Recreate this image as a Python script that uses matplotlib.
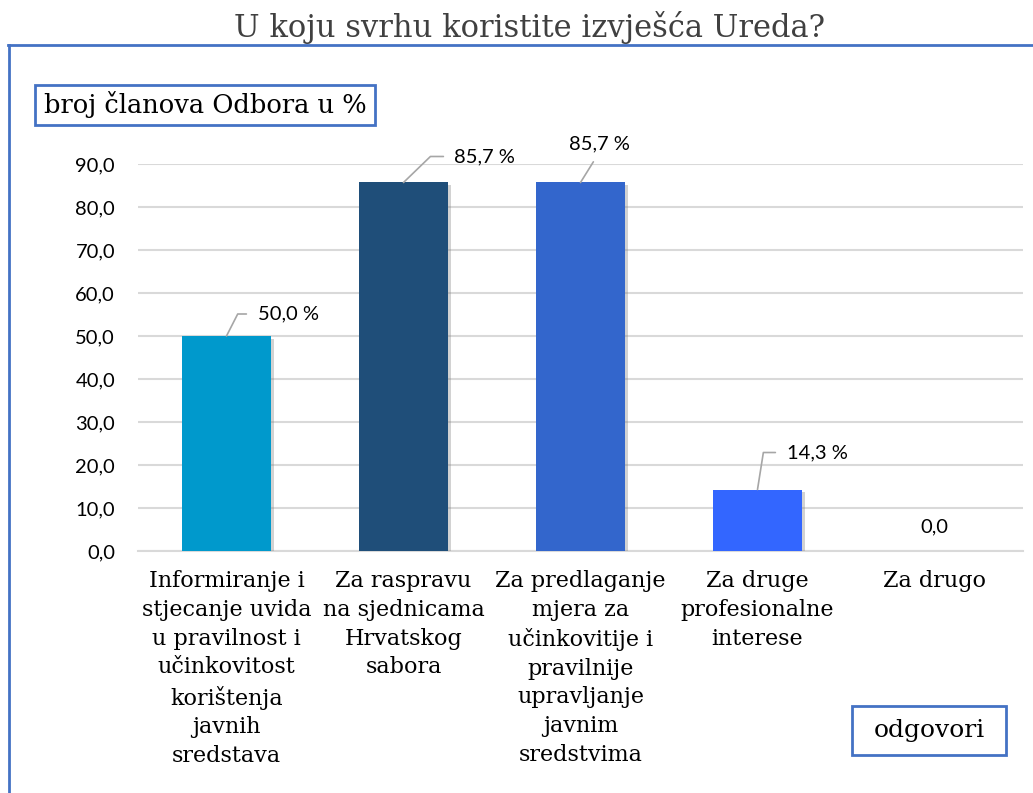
import matplotlib
matplotlib.use("Agg")
import matplotlib.pyplot as plt
from matplotlib.patches import Rectangle
from matplotlib.lines import Line2D
import matplotlib.patheffects as pe

# Survey data
categories = [
    "Informiranje i\nstjecanje uvida\nu pravilnost i\nučinkovitost\nkorištenja\njavnih\nsredstava",
    "Za raspravu\nna sjednicama\nHrvatskog\nsabora",
    "Za predlaganje\nmjera za\nučinkovitije i\npravilnije\nupravljanje\njavnim\nsredstvima",
    "Za druge\nprofesionalne\ninterese",
    "Za drugo",
]
values = [50.0, 85.7, 85.7, 14.3, 0.0]
yticks = [0, 10, 20, 30, 40, 50, 60, 70, 80, 90]
bar_colors = ["#0099CC", "#1F4E79", "#3366CC", "#3366FF", "#3366FF"]

W, H = 1033, 793
DPI = 100
fig = plt.figure(figsize=(W / DPI, H / DPI), dpi=DPI)

SERIF = ["DejaVu Serif"]
SANS = ["Lato", "DejaVu Sans"]
FRAME = "#4472C4"


def px(x, y):
    """pixel (from top-left) -> figure fraction"""
    return x / W, 1 - y / H


# axes placement
x0, x1 = 138, 1023
ytop, ybot = 164, 551
ax = fig.add_axes([x0 / W, 1 - ybot / H, (x1 - x0) / W, (ybot - ytop) / H])

xs = list(range(len(values)))
bars = ax.bar(xs, values, width=0.5, color=bar_colors, zorder=3)
for b in bars:
    b.set_path_effects([pe.SimplePatchShadow(offset=(2, -2), shadow_rgbFace="#808080", alpha=0.35),
                        pe.Normal()])

ax.set_xlim(-0.5, len(values) - 0.5)
ax.set_ylim(0, 90)
ax.set_yticks(yticks)
ax.set_yticklabels([f"{v:.1f}".replace(".", ",") for v in yticks], fontfamily=SANS, fontsize=14.5)
ax.yaxis.grid(True, color="#D9D9D9", linewidth=1.5, zorder=0)
ax.set_axisbelow(True)
for s in ["left", "right", "top"]:
    ax.spines[s].set_visible(False)
ax.spines["bottom"].set_color("#D9D9D9")
ax.spines["bottom"].set_linewidth(1.5)
ax.tick_params(axis="both", length=0)
ax.tick_params(axis="y", pad=16.5)
ax.set_xticks(xs)
ax.set_xticklabels(categories, fontfamily=SERIF, fontsize=16, linespacing=1.39, va="top")
ax.tick_params(axis="x", pad=14)

# data labels with leader lines
lead = "#A6A6A6"
label_fmt = lambda v: f"{v:.1f} %".replace(".", ",")
label_specs = {
    0: dict(offset=(31, 22), ha="left", relpos=(0, 0.5), angleB=63),
    1: dict(offset=(51, 26), ha="left", relpos=(0, 0.5), angleB=44),
    2: dict(offset=(19, 39), ha="center", relpos=(0.5, 0), angleB=None),
    3: dict(offset=(29, 37), ha="left", relpos=(0, 0.5), angleB=81),
}
for i, v in enumerate(values):
    if i in label_specs:
        spec = label_specs[i]
        if spec["angleB"] is None:
            cs = "arc3"
        else:
            cs = f"angle,angleA=0,angleB={spec['angleB']},rad=0"
        ax.annotate(label_fmt(v), xy=(i, v), xytext=spec["offset"], textcoords="offset pixels",
                    ha=spec["ha"], va="center", fontfamily=SANS, fontsize=14.5,
                    annotation_clip=False,
                    arrowprops=dict(arrowstyle="-", color=lead, lw=1.2, connectionstyle=cs,
                                    relpos=spec["relpos"], shrinkA=6, shrinkB=0))
    else:
        ax.annotate(f"{v:.1f}".replace(".", ","), xy=(i, v), xytext=(0, 24),
                    textcoords="offset pixels", ha="center", va="center",
                    fontfamily=SANS, fontsize=14.5, annotation_clip=False)

# chart frame (left and top edges)
fig.add_artist(Line2D([9 / W, 9 / W], [0, 1 - 45 / H], color=FRAME, lw=2))
fig.add_artist(Line2D([8 / W, 1], [1 - 45 / H, 1 - 45 / H], color=FRAME, lw=2))

# title
fig.text(530 / W, 1 - 27 / H, "U koju svrhu koristite izvješća Ureda?", ha="center", va="center",
         fontfamily=SERIF, fontsize=22, color="#404040")

# axis title boxes
def boxed(x_l, y_t, x_r, y_b, text, size):
    fx, fy = px(x_l, y_b)
    fig.add_artist(Rectangle((fx, fy), (x_r - x_l) / W, (y_b - y_t) / H, transform=fig.transFigure,
                             fill=False, edgecolor=FRAME, lw=2))
    cx, cy = px((x_l + x_r) / 2, (y_t + y_b) / 2)
    fig.text(cx, cy, text, ha="center", va="center", fontfamily=SERIF, fontsize=size)

boxed(35, 85, 375, 125, "broj članova Odbora u %", 18.5)
boxed(852, 706, 1006, 755, "odgovori", 18)

fig.savefig("out.png", dpi=DPI)
